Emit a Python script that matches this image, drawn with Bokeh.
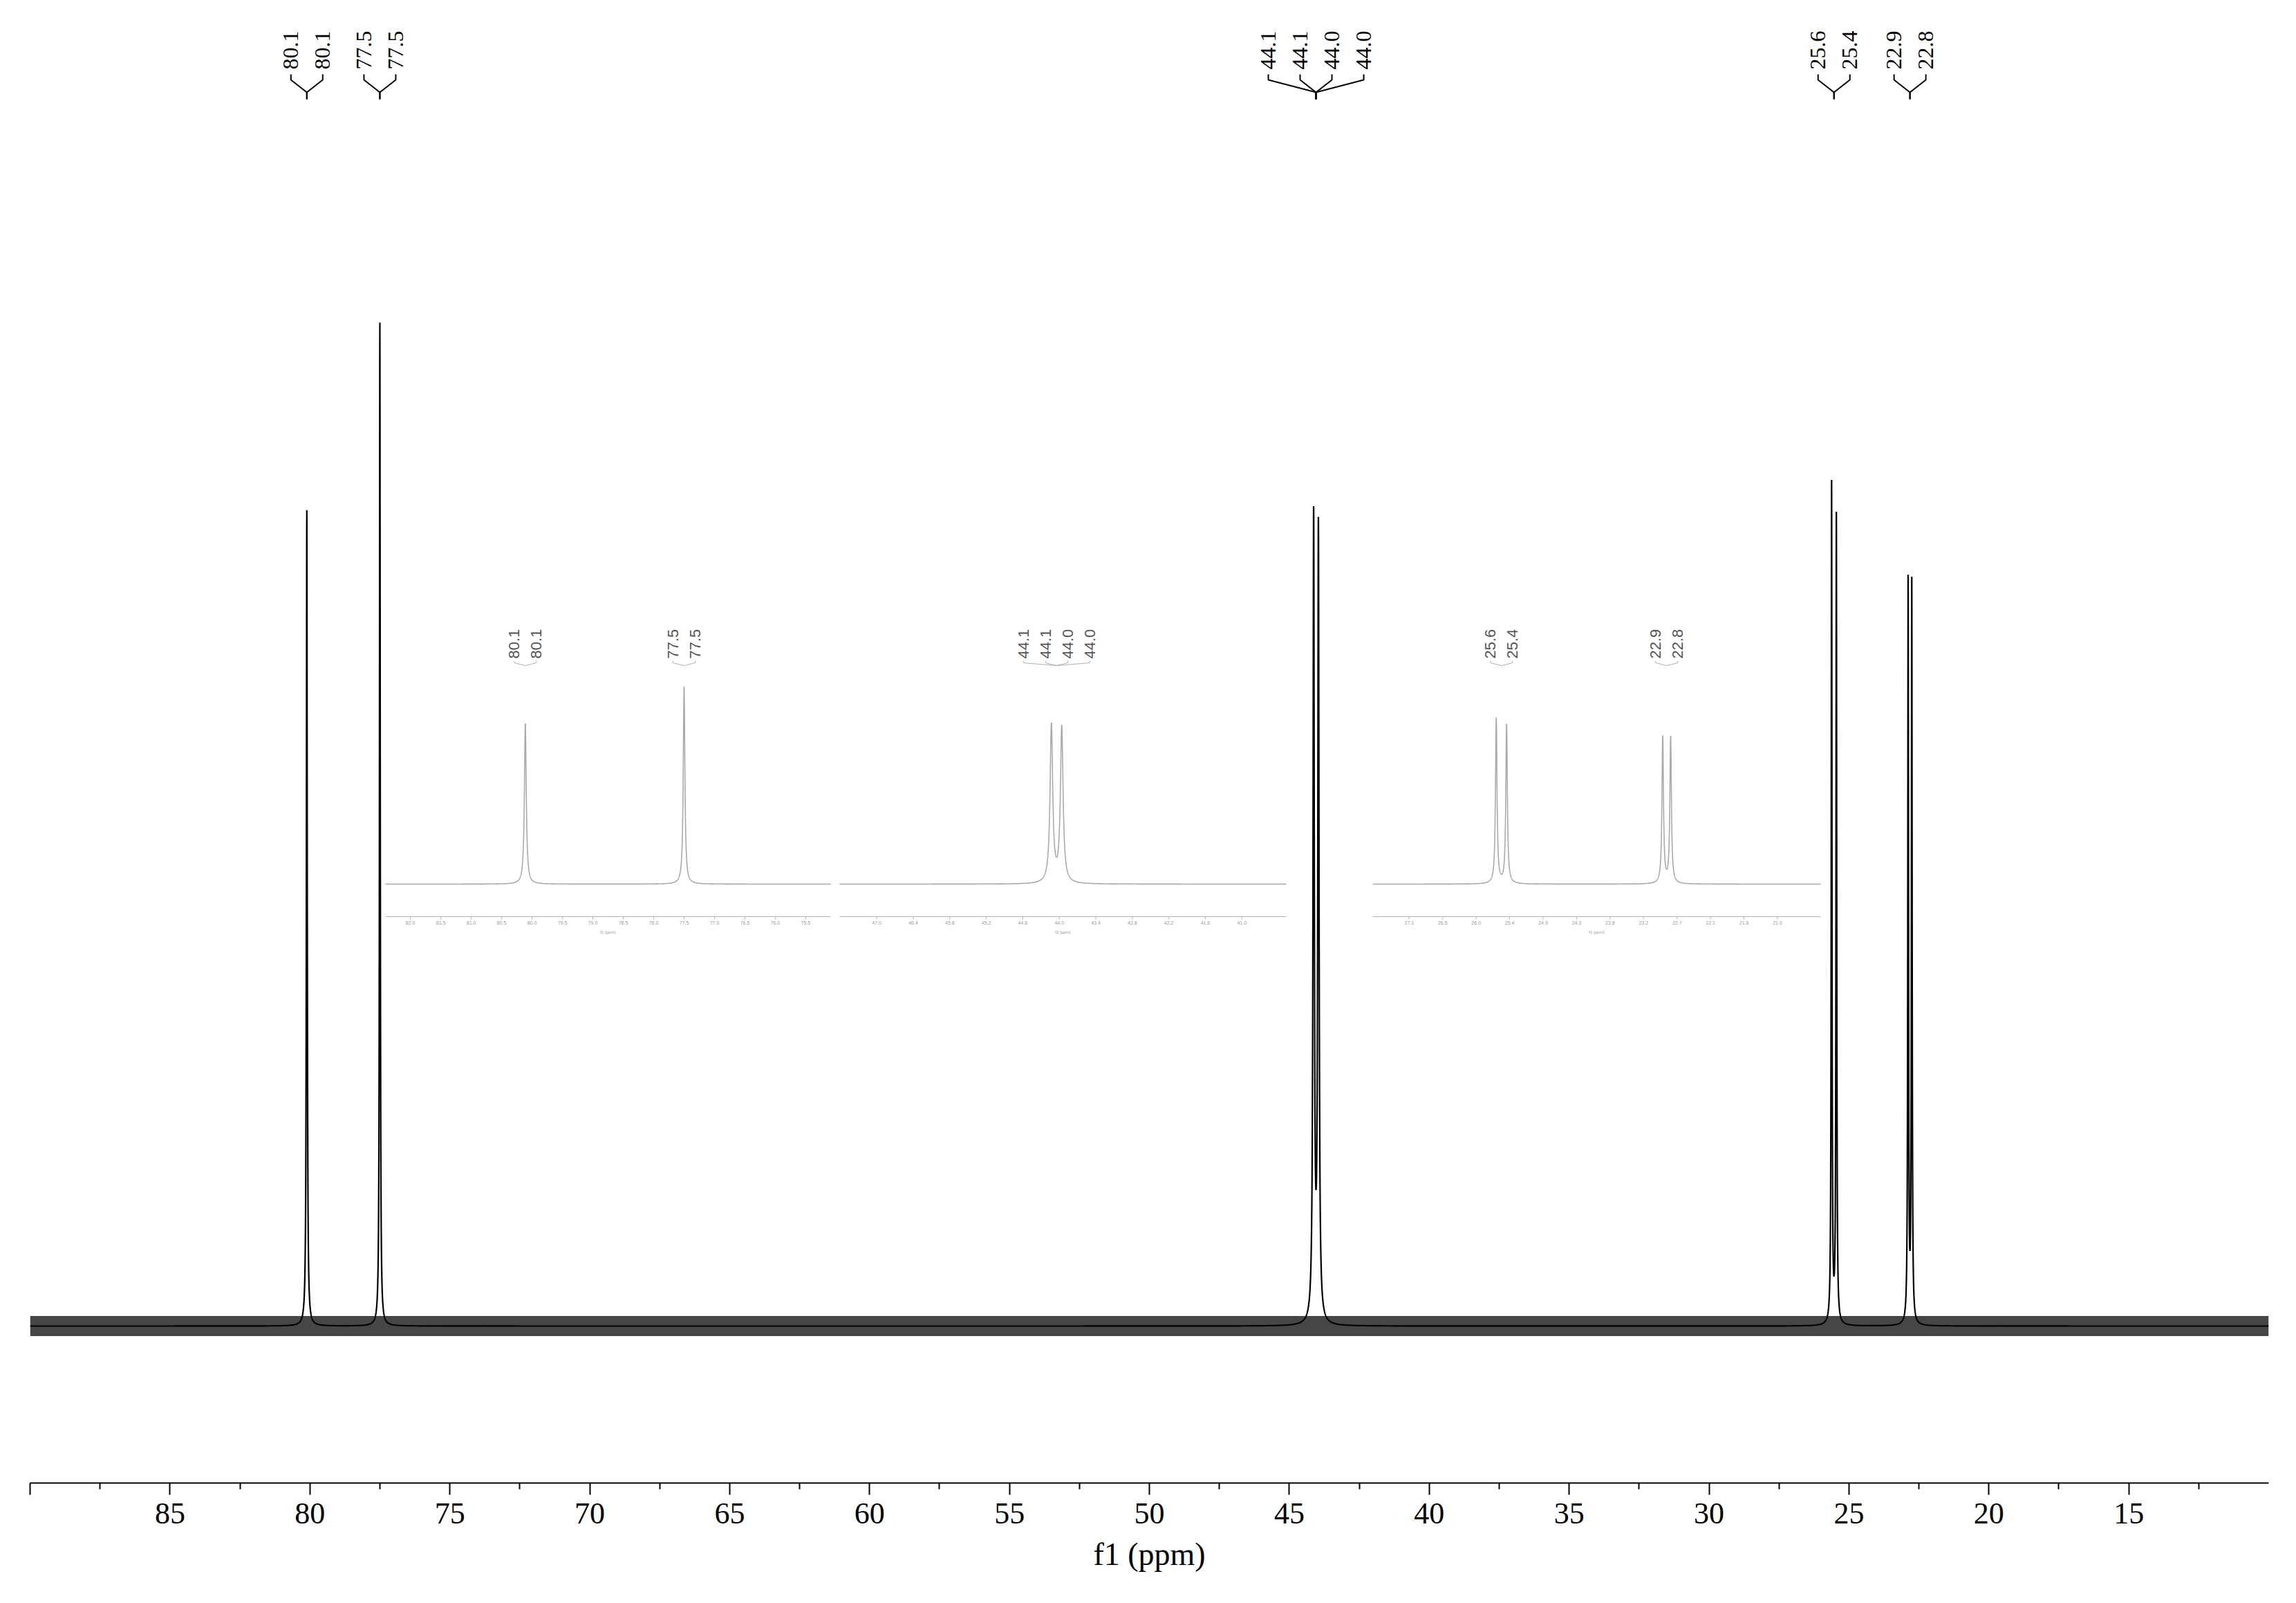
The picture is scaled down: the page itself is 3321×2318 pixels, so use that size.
import numpy as np
from bokeh.plotting import figure
from bokeh.models import Range1d, FixedTicker
from bokeh.embed import file_html
from bokeh.resources import INLINE
from bokeh.core.properties import value

# ---------------- data ----------------
ppm_start, ppm_end = 90.0, 10.0
major_ticks = [90, 85, 80, 75, 70, 65, 60, 55, 50, 45, 40, 35, 30, 25, 20, 15]
minor_ticks = [87.5, 82.5, 77.5, 72.5, 67.5, 62.5, 57.5, 52.5, 47.5, 42.5,
               37.5, 32.5, 27.5, 22.5, 17.5, 12.5]

# resolved lines of the 13C spectrum (ppm, height relative to 77.5 = 100, half width ppm)
peak_ppm = [80.11, 77.50, 44.13, 43.96, 25.62, 25.45, 22.885, 22.755]
peak_height = [81.3, 100.0, 79.9, 78.8, 83.7, 80.5, 74.2, 74.0]
peak_hwhm = [0.018, 0.016, 0.026, 0.026, 0.015, 0.015, 0.015, 0.015]
noise_level = 1.0

# peak-picking labels
group_center = [80.11, 77.50, 44.045, 25.535, 22.82]
group_labels = [["80.1", "80.1"], ["77.5", "77.5"],
                ["44.1", "44.1", "44.0", "44.0"], ["25.6", "25.4"], ["22.9", "22.8"]]

# expansions (insets)
inset_ppm_left = [82.41, 47.61, 27.65]
inset_ppm_right = [75.09, 40.27, 20.29]
inset_group_idx = [[0, 1], [2], [3, 4]]
inset_ticks = [
    [82.0, 81.5, 81.0, 80.5, 80.0, 79.5, 79.0, 78.5, 78.0, 77.5, 77.0, 76.5, 76.0, 75.5],
    [47.0, 46.4, 45.8, 45.2, 44.6, 44.0, 43.4, 42.8, 42.2, 41.6, 41.0],
    [27.05, 26.5, 25.95, 25.4, 24.85, 24.3, 23.75, 23.2, 22.65, 22.1, 21.55, 21.0],
]
inset_tick_labels = [
    ["82.0", "81.5", "81.0", "80.5", "80.0", "79.5", "79.0", "78.5", "78.0", "77.5", "77.0", "76.5", "76.0", "75.5"],
    ["47.0", "46.4", "45.8", "45.2", "44.6", "44.0", "43.4", "42.8", "42.2", "41.6", "41.0"],
    ["27.1", "26.5", "26.0", "25.4", "24.9", "24.3", "23.8", "23.2", "22.7", "22.1", "21.6", "21.0"],
]

# ---------------- layout (pixels) ----------------
W, H = 3300, 2300
FRAME_L, FRAME_R, FRAME_T, FRAME_B = 43, 3281, 8, 2144
PX_PER_PPM = (FRAME_R - FRAME_L) / (ppm_start - ppm_end)
BASE_PX = 1917
PX_PER_UNIT = 14.51
INSET_BASE_PX = 1278
INSET_PX_PER_UNIT = PX_PER_UNIT * 0.197
inset_px_left = [557, 1214, 1985]
inset_px_right = [1201, 1860, 2633]


def lorentz_sum(x):
    y = np.zeros_like(x)
    for p0, h, w in zip(peak_ppm, peak_height, peak_hwhm):
        y += h / (1.0 + ((x - p0) / w) ** 2)
    return y


p = figure(width=W, height=H, output_backend="svg", toolbar_location=None,
           x_range=Range1d(ppm_start, ppm_end), y_range=Range1d(FRAME_B, FRAME_T),
           y_axis_location=None, min_border_left=FRAME_L,
           min_border_right=W - FRAME_R, min_border_top=FRAME_T,
           min_border_bottom=H - FRAME_B, outline_line_color=None,
           background_fill_color="white", border_fill_color="white")
p.grid.visible = False

p.extra_y_ranges = {
    "int": Range1d(-(FRAME_B - BASE_PX) / PX_PER_UNIT, (BASE_PX - FRAME_T) / PX_PER_UNIT),
    "inset": Range1d(-(FRAME_B - INSET_BASE_PX) / INSET_PX_PER_UNIT,
                     (INSET_BASE_PX - FRAME_T) / INSET_PX_PER_UNIT),
}
extra_x = {}
for k in range(3):
    L, R = inset_ppm_left[k], inset_ppm_right[k]
    a, b = inset_px_left[k], inset_px_right[k]
    s = (b - a) / (L - R)
    extra_x["in%d" % k] = Range1d(L + (a - FRAME_L) / s, R - (FRAME_R - b) / s)
p.extra_x_ranges = extra_x

# ---------------- main spectrum ----------------
x_main = np.arange(ppm_end, ppm_start + 1e-9, 0.002)
p.varea(x=[ppm_start, ppm_end], y1=[-noise_level] * 2, y2=[noise_level] * 2,
        y_range_name="int", fill_color="#262626", fill_alpha=0.85)
p.line(x_main, lorentz_sum(x_main), y_range_name="int", line_color="black", line_width=2.2)

# ---------------- main peak labels ----------------
lab_dx = 46 / PX_PER_PPM
lx, ly, lt, bxs, bys = [], [], [], [], []
for c, labs in zip(group_center, group_labels):
    n = len(labs)
    for i, t in enumerate(labs):
        xi = c - (i - (n - 1) / 2) * lab_dx
        lx.append(xi); ly.append(100); lt.append(t)
        bxs.append([xi, xi, c, c]); bys.append([107, 115, 133, 143])
p.text(x=lx, y=ly, text=lt, angle=np.pi / 2, text_align="left", text_baseline="middle",
       text_font=value("Liberation Serif"), text_font_size="32px", text_color="black")
p.multi_line(bxs, bys, line_color="black", line_width=2)

# ---------------- insets ----------------
for k in range(3):
    rn = "in%d" % k
    L, R = inset_ppm_left[k], inset_ppm_right[k]
    s = (inset_px_right[k] - inset_px_left[k]) / (L - R)
    xi_ = np.arange(R, L + 1e-9, 0.001)
    p.line(xi_, lorentz_sum(xi_), x_range_name=rn, y_range_name="inset",
           line_color="#a9a9a9", line_width=1.6)
    # axis
    p.segment(x0=[L], y0=[1325], x1=[R], y1=[1325], x_range_name=rn,
              line_color="#b5b5b5", line_width=1.2)
    tk = inset_ticks[k]
    p.segment(x0=tk, y0=[1325] * len(tk), x1=tk, y1=[1329] * len(tk), x_range_name=rn,
              line_color="#b5b5b5", line_width=1)
    p.text(x=tk, y=[1334] * len(tk), text=inset_tick_labels[k], x_range_name=rn,
           text_align="center", text_baseline="middle", text_font=value("Liberation Sans"),
           text_font_size="7px", text_color="#9a9a9a")
    p.text(x=[(L + R) / 2], y=[1347], text=["f1 (ppm)"], x_range_name=rn,
           text_align="center", text_baseline="middle", text_font=value("Liberation Sans"),
           text_font_size="6px", text_color="#9a9a9a")
    # labels
    d = 32 / s
    ix, iy, it, ibx, iby = [], [], [], [], []
    for g in inset_group_idx[k]:
        c = group_center[g]
        labs = group_labels[g]
        n = len(labs)
        for i, t in enumerate(labs):
            xx = c - (i - (n - 1) / 2) * d
            ix.append(xx); iy.append(952); it.append(t)
            ibx.append([xx, xx, c]); iby.append([955, 958, 962])
    p.text(x=ix, y=iy, text=it, x_range_name=rn, angle=np.pi / 2, text_align="left",
           text_baseline="middle", text_font=value("Liberation Sans"),
           text_font_size="22px", text_color="#555555")
    p.multi_line(ibx, iby, x_range_name=rn, line_color="#b0b0b0", line_width=1)

# ---------------- main axis ----------------
ax = p.xaxis[0]
ax.ticker = FixedTicker(ticks=major_ticks, minor_ticks=minor_ticks)
ax.major_label_overrides = {90: ""}
ax.axis_label = "f1 (ppm)"
ax.axis_label_text_font = "Liberation Serif"
ax.axis_label_text_font_size = "46px"
ax.axis_label_text_font_style = "normal"
ax.axis_label_text_color = "black"
ax.axis_label_standoff = 16
ax.major_label_text_font = "Liberation Serif"
ax.major_label_text_font_size = "44px"
ax.major_label_text_color = "black"
ax.major_label_standoff = 12
ax.axis_line_width = 2
ax.axis_line_color = "black"
ax.major_tick_line_width = 2
ax.major_tick_line_color = "black"
ax.major_tick_out = 17
ax.major_tick_in = 0
ax.minor_tick_line_width = 2
ax.minor_tick_line_color = "black"
ax.minor_tick_out = 9
ax.minor_tick_in = 0

open("out.html", "w").write(file_html(p, INLINE))
